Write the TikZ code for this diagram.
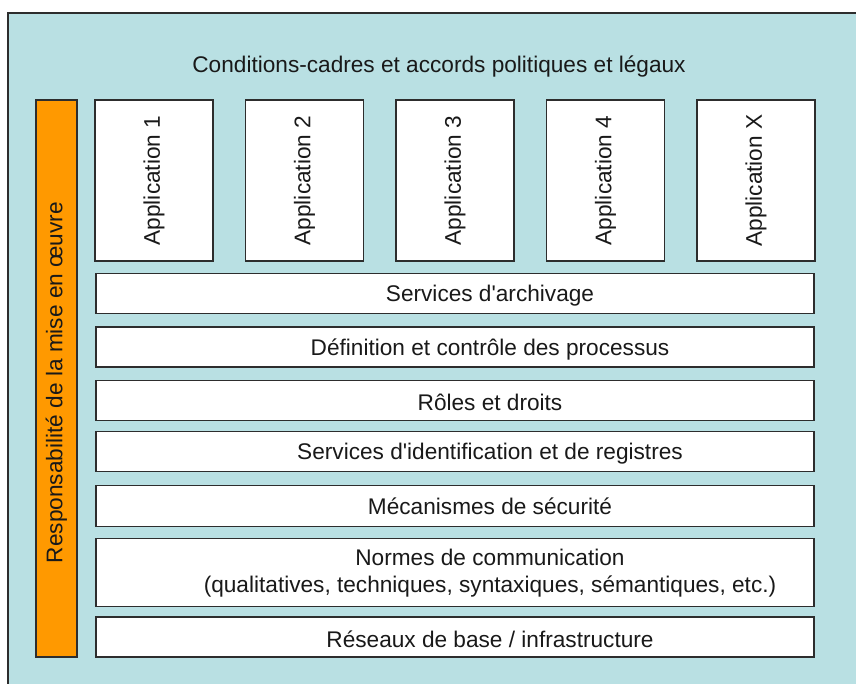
\documentclass[tikz,border=0pt]{standalone}
\usepackage{fontspec}
\setmainfont{Liberation Sans}
\usepackage{tikz}
\usetikzlibrary{positioning}
\definecolor{cadre}{RGB}{185,224,227}
\definecolor{orange}{RGB}{255,153,0}
\definecolor{trait}{RGB}{45,45,45}
\begin{document}
\begin{tikzpicture}
		[auto,
		font=\fontsize{16.1}{19.4}\selectfont,
		app/.style ={rectangle, draw=trait, line width=0.8pt, fill=white, minimum width=2.95cm, minimum height=4.025cm, inner sep=0pt},
		bar/.style ={rectangle, draw=trait, line width=0.8pt, fill=white, minimum width=17.95cm, minimum height=1cm, inner sep=0pt},
		side/.style ={rectangle, draw=trait, line width=0.8pt, fill=orange, minimum width=1.025cm, minimum height=13.925cm, inner sep=0pt},
		txt/.style = {align=center, inner sep=0pt, text=black!90},
		]

		\useasboundingbox (0,0) rectangle (21.4,-17.1);
		\clip (0,0) rectangle (21.4,-17.1);
		\draw[draw=trait, line width=0.8pt, fill=cadre] (0.2,-0.325) rectangle (22,-18);

		\draw (10.975,-1.66) node[txt] (T) {Conditions-cadres et accords politiques et légaux};

		\draw (1.4125,-9.4625) node[side] (R) {};
		\draw ([yshift=-0.1cm]R.center) node[txt, rotate=90] {Responsabilité de la mise en œuvre};

		\draw (3.85,-4.5125) node[app] (A1) {};
		\draw (7.6125,-4.5125) node[app] (A2) {};
		\draw (11.375,-4.5125) node[app] (A3) {};
		\draw (15.1375,-4.5125) node[app] (A4) {};
		\draw (18.9,-4.5125) node[app] (A5) {};
		\draw (A1.center) node[txt, rotate=90] {Application 1};
		\draw (A2.center) node[txt, rotate=90] {Application 2};
		\draw (A3.center) node[txt, rotate=90] {Application 3};
		\draw (A4.center) node[txt, rotate=90] {Application 4};
		\draw (A5.center) node[txt, rotate=90] {Application X};

		\draw (11.375,-7.33) node[bar] (S1) {};
		\draw (11.375,-8.675) node[bar] (S2) {};
		\draw (11.375,-10.01) node[bar] (S3) {};
		\draw (11.375,-11.29) node[bar] (S4) {};
		\draw (11.375,-12.64) node[bar, minimum height=1.025cm] (S5) {};
		\draw (11.375,-14.31) node[bar, minimum height=1.7125cm] (S6) {};
		\draw (11.375,-15.925) node[bar] (S7) {};

		\draw ([xshift=0.875cm,yshift=-0.06cm]S1.center) node[txt] {Services d\textquotesingle archivage};
		\draw ([xshift=0.875cm,yshift=-0.06cm]S2.center) node[txt] {Définition et contrôle des processus};
		\draw ([xshift=0.875cm,yshift=-0.06cm]S3.center) node[txt] {Rôles et droits};
		\draw ([xshift=0.875cm,yshift=-0.06cm]S4.center) node[txt] {Services d\textquotesingle identification et de registres};
		\draw ([xshift=0.875cm,yshift=-0.02cm]S5.center) node[txt] {Mécanismes de sécurité};
		\draw ([xshift=0.875cm,yshift=-0.02cm]S6.center) node[txt] {Normes de communication\\(qualitatives, techniques, syntaxiques, sémantiques, etc.)};
		\draw ([xshift=0.875cm,yshift=-0.06cm]S7.center) node[txt] {Réseaux de base / infrastructure};

	\end{tikzpicture}
\end{document}
